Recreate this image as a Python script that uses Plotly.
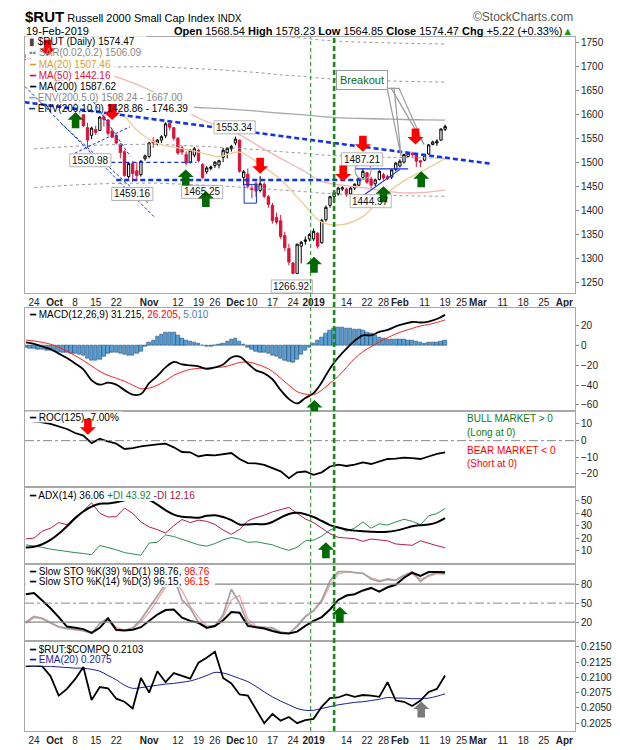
import plotly.graph_objects as go

# trading-day index: 0 = 24-Sep-2018 ... 100 = 19-Feb-2019
day_idx = list(range(-2, 101))

rut_open = [1714, 1722, 1713, 1706, 1707, 1697, 1693, 1697, 1672, 1660,
            1667, 1641, 1630, 1612, 1605, 1572, 1556, 1568, 1566, 1594,
            1588, 1565, 1556, 1537, 1522, 1470, 1497, 1482, 1474, 1507,
            1512, 1544, 1540, 1546, 1555, 1581, 1572, 1550, 1530, 1516,
            1500, 1515, 1525, 1495, 1480, 1487, 1493, 1494, 1510, 1520,
            1528, 1540, 1546, 1468, 1475, 1445, 1455, 1441, 1454, 1428,
            1410, 1385, 1378, 1347, 1320, 1290, 1268, 1325, 1335, 1340,
            1340, 1352, 1332, 1380, 1410, 1428, 1434, 1444, 1444, 1434,
            1446, 1452, 1468, 1478, 1465, 1455, 1464, 1474, 1470, 1469,
            1485, 1492, 1500, 1512, 1518, 1516, 1503, 1504, 1517, 1537,
            1540, 1546, 1568.54]
rut_high = [1725, 1726, 1716, 1711, 1712, 1703, 1700, 1698, 1675, 1675,
            1668, 1645, 1633, 1620, 1610, 1582, 1574, 1576, 1596, 1600,
            1590, 1570, 1558, 1540, 1525, 1500, 1502, 1500, 1504, 1516,
            1542, 1552, 1548, 1556, 1583.27, 1582.5, 1573, 1552, 1535, 1522,
            1527, 1532, 1528, 1498, 1492, 1493, 1502, 1505, 1530, 1531,
            1536, 1553.34, 1547, 1484, 1487, 1452, 1460, 1471, 1458, 1432,
            1415, 1395, 1390, 1355, 1330, 1292, 1330, 1336, 1345, 1352,
            1362, 1354, 1382, 1410, 1430, 1441, 1449, 1450, 1447, 1448,
            1456, 1468, 1487.21, 1480, 1470, 1466, 1483, 1478, 1474, 1485,
            1500, 1506, 1518, 1521, 1522, 1517, 1505, 1517, 1538, 1545,
            1548, 1570, 1578.23]
rut_low = [1712, 1710, 1700, 1700, 1693, 1692, 1690, 1668, 1650, 1657,
           1636, 1622, 1602, 1605, 1573, 1530.98, 1548, 1557, 1565, 1574,
           1555, 1550, 1537, 1508, 1470, 1466, 1459.16, 1462, 1470, 1503,
           1508, 1530, 1535, 1540, 1550, 1566, 1545, 1515, 1515, 1493,
           1497, 1510, 1500, 1465.25, 1476, 1483, 1488, 1487, 1500, 1508,
           1522, 1535, 1478, 1452, 1445, 1425, 1428, 1437, 1425, 1405,
           1372, 1370, 1340, 1315, 1285, 1266.92, 1267, 1289, 1328, 1335,
           1336, 1320, 1330, 1376, 1405, 1424, 1430, 1440, 1428, 1430,
           1442, 1450, 1464, 1455, 1444.97, 1450, 1462, 1462, 1463, 1465,
           1481, 1489, 1497, 1510, 1510, 1490, 1490, 1502, 1516, 1535,
           1534, 1545, 1564.85]
rut_close = [1721, 1714, 1705, 1706, 1695, 1697, 1696, 1672, 1657, 1669,
             1641, 1631, 1614, 1610, 1576, 1546, 1571, 1562, 1594, 1589,
             1560, 1552, 1540, 1520, 1472, 1497, 1476, 1472, 1502, 1513,
             1540, 1540, 1546, 1553, 1580, 1573, 1550, 1519, 1521, 1498,
             1525, 1528, 1503, 1468, 1488, 1490, 1500, 1503, 1525, 1529,
             1533, 1548, 1481, 1480, 1450, 1443, 1440, 1455, 1429, 1412,
             1378, 1375, 1345, 1322, 1292, 1268, 1329, 1333, 1338, 1349,
             1356, 1325, 1379, 1406, 1428, 1437, 1446, 1447, 1432, 1446,
             1454, 1466, 1481, 1458, 1452, 1463, 1481, 1467, 1466, 1484,
             1498, 1502, 1516, 1519, 1516, 1502, 1500, 1515, 1536, 1542,
             1544, 1569.25, 1574.47]

# overlays, sampled every 5 trading days
ma_idx = list(range(0, 101, 5))
ma20 = [1712, 1702, 1686, 1660, 1619, 1567, 1539, 1530, 1521, 1512, 1521,
        1495, 1464, 1418, 1375, 1370, 1387, 1430, 1461, 1484, 1507.46]
ma50 = [1700, 1698, 1694, 1688, 1678, 1662, 1642, 1617, 1592, 1574, 1557,
        1532, 1508, 1485, 1460, 1452, 1447, 1440, 1436, 1437, 1442.16]
ma200 = [1608, 1611, 1614, 1616, 1617.5, 1618, 1618, 1616, 1614, 1612, 1609,
         1606, 1602, 1599, 1595, 1592.5, 1591, 1590, 1589, 1588.3, 1587.62]
env5_up = [1688.4, 1691.6, 1694.7, 1696.8, 1698.4, 1698.9, 1698.9, 1696.8, 1694.7, 1692.6, 1689.5,
           1686.3, 1682.1, 1679.0, 1674.8, 1672.1, 1670.6, 1669.5, 1668.5, 1667.7, 1667.0]
env5_dn = [1527.6, 1530.5, 1533.3, 1535.2, 1536.6, 1537.1, 1537.1, 1535.2, 1533.3, 1531.4, 1528.6,
           1525.7, 1521.9, 1519.1, 1515.3, 1512.9, 1511.5, 1510.5, 1509.6, 1508.9, 1508.24]
env10_up = [1768.8, 1772.1, 1775.4, 1777.6, 1779.3, 1779.8, 1779.8, 1777.6, 1775.4, 1773.2, 1769.9,
            1766.6, 1762.2, 1758.9, 1754.5, 1751.8, 1750.1, 1749.0, 1747.9, 1747.1, 1746.39]
env10_dn = [1447.2, 1449.9, 1452.6, 1454.4, 1455.8, 1456.2, 1456.2, 1454.4, 1452.6, 1450.8, 1448.1,
            1445.4, 1441.8, 1439.1, 1435.5, 1433.3, 1431.9, 1431.0, 1430.1, 1429.5, 1428.86]

# indicators, sampled every 2 trading days
ind_idx = list(range(-2, 101, 2))
macd = [3.4, 1.8, -0.8, -3.5, -8, -12.5, -18, -24, -35, -39.5, -37.5, -39.5, -45,
        -49.5, -49, -38, -30.5, -22, -16.5, -19, -20, -21, -23.5, -22, -19, -12,
        -11, -18, -25, -28, -34, -45, -54, -58.5, -53, -48, -37, -23, -12, -3,
        5, 10.5, 10.5, 14, 16, 19.5, 22, 24, 23.5, 24.5, 27, 31.215]
macd_sig = [5.7, 4.8, 3.4, 1.5, -1.5, -5.5, -10, -15, -20.5, -26, -30, -33, -36,
            -40, -43.5, -43, -40, -35.5, -30, -26.5, -24, -23, -22.5, -22, -21.5, -19.5,
            -17, -16.5, -18.5, -21.5, -26, -33, -40, -46.5, -49, -49.5, -45, -38, -31, -22,
            -13, -6, -1, 4, 8, 12, 15, 17.5, 20, 21.5, 23.5, 26.205]
macd_hist = [-2.3, -2.6, -3.0, -3.6, -4.2, -4.6, -5.0, -5.8, -6.5, -6.8,
             -7.0, -7.5, -8.0, -9.0, -10.0, -12.5, -14.5, -14.5, -13.5, -10.5,
             -7.5, -7.0, -6.5, -8.0, -9.0, -9.5, -9.5, -7.5, -5.5, -1.0,
             3.0, 5.5, 9.0, 11.5, 13.0, 13.5, 13.0, 10.5, 7.5, 5.5,
             4.0, 3.0, 2.0, 0.5, -1.0, -0.8, 0.0, 1.0, 2.5, 4.5,
             6.0, 7.0, 4.5, 1.5, -1.5, -4.0, -6.0, -6.5, -6.5, -7.5,
             -9.5, -11.0, -13.0, -14.5, -16.0, -17.0, -13.5, -9.0, -4.5, -1.5,
             2.0, 5.0, 8.5, 12.0, 15.5, 17.0, 18.0, 18.0, 17.5, 17.0,
             16.5, 16.0, 15.0, 13.5, 12.0, 10.0, 8.0, 7.0, 6.5, 6.0,
             6.0, 6.0, 6.0, 5.5, 5.0, 4.0, 3.0, 2.5, 3.0, 3.0,
             3.5, 4.0, 5.01]
roc125 = [12, 11.5, 11, 10, 8.5, 7, 4.6, 3, -1.5, 1.2, -0.5, -1.8, -5, -4.5, -3.4,
          -2.6, -2.2, -1.8, -4, -6.8, -7, -9.5, -8.6, -8.8, -8, -7.4, -11, -13.5,
          -13.6, -14.5, -16.5, -18.4, -22.5, -19, -18.5, -20.5, -19, -15.5, -14.4,
          -15.2, -14.4, -13, -14, -12.4, -11, -10.8, -10.2, -10.5, -11, -9.5, -8, -7.0]
adx = [12.4, 13, 15, 18.5, 23.5, 29.5, 36, 41.5, 45.5, 47.8, 48, 49, 50.5, 52.5,
       53, 51, 47, 42.5, 39, 37.3, 36.8, 36.5, 38, 38.5, 37, 34.5, 31, 31, 31.3,
       31.2, 33, 36.5, 39.5, 40.4, 39.3, 37, 33.8, 30.5, 28.5, 27, 26, 25.5, 25.1,
       24.8, 25, 26, 27.6, 29.5, 30.4, 31, 32.7, 36.06]
plus_di = [14.5, 13.8, 12.5, 11, 10, 8.8, 8.2, 7.5, 6.5, 14, 12.5, 10.5, 8.2, 7, 6,
           16, 16.6, 22.5, 21.2, 19, 16.5, 14.5, 13.4, 15.5, 18.5, 20.5, 19, 16.5,
           17, 16, 14.5, 12, 10, 12.5, 17.8, 18.3, 21.5, 26.5, 29, 25.5, 28, 33, 28,
           31.5, 30.5, 33, 35.2, 33.5, 30.8, 38, 39.8, 43.92]
minus_di = [19.3, 20, 25.5, 28, 32.5, 30.8, 37, 42, 48.5, 40, 37, 37.3, 44.3, 40,
            33, 29, 26.8, 24, 30, 35, 32.5, 34.5, 33.5, 31, 26.5, 23, 27, 34, 36.5,
            38.5, 41.2, 43, 44.8, 40, 35.5, 32.5, 28, 23.5, 20.5, 20, 19.5, 17.3,
            19.2, 18.5, 17.7, 15.2, 14.6, 14.1, 17.8, 15.5, 13.8, 12.16]
sto39 = [64, 66, 54, 42, 28, 13, 11, 9, 3, 11, 26, 8, 7, 8, 12, 22, 32, 39, 40, 27,
         22, 19, 11, 14, 23, 36, 35, 14, 12, 10, 6, 3, 2, 5, 14, 22, 28, 40, 55, 62,
         64, 70, 74, 68, 75, 79, 90, 98, 93, 99, 99, 98.76]
sto14_k = [20, 29, 26, 19, 12.5, 10, 8.5, 7, 2.5, 18, 26, 7, 7, 11, 24, 42, 60, 80,
           90, 55, 42, 20, 12, 14, 32, 72, 50, 18, 12.5, 12.3, 11, 4.5, 2, 14, 29,
           38, 55, 85, 99.8, 99.8, 98.5, 97, 88, 84, 88, 86, 94, 99.5, 84, 94, 98, 96.15]
sto14_d = [18, 27, 25, 18, 13, 10, 8, 6, 3, 12, 25, 12, 7, 10, 20, 35, 55, 75, 85,
           70, 45, 28, 14, 15, 28, 55, 62, 25, 14, 12, 8, 4, 3, 12, 28, 38, 52, 78,
           96, 99, 98, 97, 90, 86, 87, 86, 92, 96, 88, 92, 96, 96.15]
ratio = [0.2118, 0.2120, 0.2118, 0.2102, 0.2070, 0.2081, 0.2097, 0.2117, 0.2063,
         0.2084, 0.2082, 0.2065, 0.2060, 0.2049, 0.2099, 0.2075, 0.2110, 0.2092,
         0.2107, 0.2102, 0.2098, 0.2124, 0.2132, 0.2142, 0.2099, 0.2090, 0.2072,
         0.2070, 0.2047, 0.2025, 0.2040, 0.2029, 0.2035, 0.2025, 0.2030, 0.2032,
         0.2052, 0.2066, 0.2067, 0.2072, 0.2068, 0.2071, 0.2070, 0.2068, 0.2092,
         0.2062, 0.2060, 0.2053, 0.2062, 0.2076, 0.2081, 0.2103]
ratio_ema = [0.2118, 0.2118, 0.2118, 0.2118, 0.2117, 0.2116, 0.2115, 0.2115, 0.2113,
             0.2110, 0.2103, 0.2096, 0.2087, 0.2082, 0.2083, 0.2085, 0.2087, 0.2089,
             0.2090, 0.2092, 0.2094, 0.2098, 0.2103, 0.2108, 0.2107, 0.2103, 0.2098,
             0.2093, 0.2085, 0.2076, 0.2068, 0.2061, 0.2055, 0.2049, 0.2046, 0.2046,
             0.2049, 0.2052, 0.2055, 0.2057, 0.2059, 0.2060, 0.2062, 0.2064, 0.2067,
             0.2066, 0.2066, 0.2065, 0.2065, 0.2066, 0.2069, 0.2073]

# date axis (future dates continue the trading-day count)
tick_pos = [0, 5, 10, 15, 20, 28, 35, 40, 44, 49, 53, 58, 63, 68, 76, 81, 85, 89,
            95, 100, 104, 108, 114, 119, 124, 129]
tick_txt = ["24", "<b>Oct</b>", "8", "15", "22", "<b>Nov</b>", "12", "19", "26",
            "<b>Dec</b>", "10", "17", "24", "<b>2019</b>", "14", "22", "28", "<b>Feb</b>",
            "11", "19", "25", "<b>Mar</b>", "11", "18", "25", "<b>Apr</b>"]

# chart notes: signal arrows (day, value, direction, panel)
arrow_day = [3.3, 10.1, 19.0, 36.9, 41.8, 55.0, 68.1, 75.2, 80.0, 85.0, 92.8, 94.2,
             68.2, 13.1, 71.0, 74.4, 94.2]
arrow_val = [1722, 1604, 1588, 1485, 1440, 1476, 1303, 1460, 1522, 1450, 1537, 1481,
             -55, 3.6, 16.6, 44.2, 0.20603]
arrow_dir = ["dn", "up", "dn", "up", "up", "dn", "up", "dn", "dn", "up", "dn", "up",
             "up", "dn", "up", "up", "gray"]
arrow_panel = [1] * 12 + [2, 3, 4, 5, 6]

# price call-outs
label_txt = ["1530.98", "1459.16", "1465.25", "1553.34", "1266.92", "1487.21", "1444.97"]
label_day = [13.7, 23.9, 40.9, 48.8, 62.7, 79.8, 81.9]
label_val = [1504, 1433.7, 1438, 1572.7, 1241, 1506, 1418.7]

FONT = "Arial, Liberation Sans, sans-serif"
W, H = 620, 750
L, R, T, B = 17, 53, 29, 18
PW, PH = W - L - R, H - T - B


def xp(px):
    return (px - L) / PW


def yp(py):
    return (H - B - py) / PH


def text_w(s, size=10):
    w = 0
    for ch in s:
        if ch.isdigit():
            w += 0.556
        elif ch.isupper():
            w += 0.68
        elif ch.islower():
            w += 0.52
        elif ch in " .,:":
            w += 0.28
        elif ch in "()-":
            w += 0.333
        elif ch == "%":
            w += 0.89
        else:
            w += 0.58
    return w * size


fig = go.Figure()

# ---- price panel
def overlay(y, color, width, dash="solid"):
    fig.add_trace(go.Scatter(x=ma_idx, y=y, mode="lines", hoverinfo="skip",
                             line=dict(color=color, width=width, dash=dash, shape="spline")))

overlay(env10_up, "#9a9a9a", 1, "dot")
overlay(env10_dn, "#9a9a9a", 1, "dot")
overlay(env5_up, "#9a9a9a", 1, "dot")
overlay(env5_dn, "#9a9a9a", 1, "dot")
overlay(ma200, "#a8a8a8", 1.3)
overlay(ma50, "#f3b4b4", 1.3)
overlay(ma20, "#efcb96", 1.3)

fig.add_trace(go.Candlestick(
    x=day_idx, open=rut_open, high=rut_high, low=rut_low, close=rut_close,
    increasing=dict(line=dict(color="black", width=1), fillcolor="white"),
    decreasing=dict(line=dict(color="#d9143a", width=1), fillcolor="#d9143a"),
    whiskerwidth=0, hoverinfo="skip"))

# ---- MACD
fig.add_trace(go.Bar(x=day_idx, y=macd_hist, xaxis="x2", yaxis="y2", width=0.85,
                     marker=dict(color="#5a9fd2", line=dict(color="#1f4c78", width=0.6)),
                     hoverinfo="skip"))
fig.add_trace(go.Scatter(x=ind_idx, y=macd_sig, xaxis="x2", yaxis="y2", mode="lines",
                         line=dict(color="#ff2020", width=1, shape="spline"), hoverinfo="skip"))
fig.add_trace(go.Scatter(x=ind_idx, y=macd, xaxis="x2", yaxis="y2", mode="lines",
                         line=dict(color="black", width=1.8, shape="spline"), hoverinfo="skip"))

# ---- ROC
fig.add_trace(go.Scatter(x=ind_idx, y=roc125, xaxis="x3", yaxis="y3", mode="lines",
                         line=dict(color="black", width=1.8), hoverinfo="skip"))

# ---- ADX
fig.add_trace(go.Scatter(x=ind_idx, y=plus_di, xaxis="x4", yaxis="y4", mode="lines",
                         line=dict(color="#2e8b57", width=1), hoverinfo="skip"))
fig.add_trace(go.Scatter(x=ind_idx, y=minus_di, xaxis="x4", yaxis="y4", mode="lines",
                         line=dict(color="#b01e4c", width=1), hoverinfo="skip"))
fig.add_trace(go.Scatter(x=ind_idx, y=adx, xaxis="x4", yaxis="y4", mode="lines",
                         line=dict(color="black", width=2, shape="spline"), hoverinfo="skip"))

# ---- Slow STO
fig.add_trace(go.Scatter(x=ind_idx, y=sto14_d, xaxis="x5", yaxis="y5", mode="lines",
                         line=dict(color="#f4a6a6", width=1.3), hoverinfo="skip"))
fig.add_trace(go.Scatter(x=ind_idx, y=sto14_k, xaxis="x5", yaxis="y5", mode="lines",
                         line=dict(color="#a4a4a4", width=1.8), hoverinfo="skip"))
fig.add_trace(go.Scatter(x=ind_idx, y=sto39, xaxis="x5", yaxis="y5", mode="lines",
                         line=dict(color="black", width=2), hoverinfo="skip"))

# ---- RUT:COMPQ
fig.add_trace(go.Scatter(x=ind_idx, y=ratio_ema, xaxis="x6", yaxis="y6", mode="lines",
                         line=dict(color="#1c1c9c", width=1, shape="spline"), hoverinfo="skip"))
fig.add_trace(go.Scatter(x=ind_idx, y=ratio, xaxis="x6", yaxis="y6", mode="lines",
                         line=dict(color="black", width=1.8), hoverinfo="skip"))

shapes = []
# reference lines
for yref, val, dash, w in [("y3", 0, "dashdot", 1), ("y5", 80, "solid", 1.2),
                           ("y5", 20, "solid", 1.2), ("y5", 50, "dashdot", 1)]:
    shapes.append(dict(type="line", xref="paper", yref=yref, x0=0, x1=1, y0=val, y1=val,
                       line=dict(color="#888", width=w, dash=dash), layer="above"))

annotations = []

# legends: (y px, plain text, html text)
legends = [
    (33.9, "$RUT (Daily) 1574.47", "<span style='color:#444'>▮</span> $RUT (Daily) 1574.47"),
    (45.2, "SAR(0.02,0.2) 1506.09", "<span style='color:#888'>▪▪ SAR(0.02,0.2) 1506.09</span>"),
    (56.5, "MA(20) 1507.46", "<span style='color:#dba128'>━ MA(20) 1507.46</span>"),
    (67.8, "MA(50) 1442.16", "<span style='color:#dc143c'>━ MA(50) 1442.16</span>"),
    (79.1, "MA(200) 1587.62", "━ MA(200) 1587.62"),
    (90.4, "ENV(200,5.0) 1508.24 - 1667.00", "<span style='color:#888'>┅ ENV(200,5.0) 1508.24 - 1667.00</span>"),
    (101.7, "ENV(200,10.0) 1428.86 - 1746.39", "┅ ENV(200,10.0) 1428.86 - 1746.39"),
    (310, "MACD(12,26,9) 31.215, 26.205, 5.010",
     "━ MACD(12,26,9) 31.215, <span style='color:#ff0000'>26.205</span>, "
     "<span style='color:#4682b4'>5.010</span>"),
    (414, "ROC(125) -7.00%", "━ ROC(125) -7.00%"),
    (493.3, "ADX(14) 36.06 +DI 43.92 -DI 12.16",
     "━ ADX(14) 36.06 <span style='color:#2e7d46'>+DI 43.92</span> "
     "<span style='color:#a3163f'>-DI 12.16</span>"),
    (570.3, "Slow STO %K(39) %D(1) 98.76, 98.76",
     "━ Slow STO %K(39) %D(1) 98.76, <span style='color:#ff0000'>98.76</span>"),
    (580.6, "Slow STO %K(14) %D(3) 96.15, 96.15",
     "━ Slow STO %K(14) %D(3) 96.15, <span style='color:#ff0000'>96.15</span>"),
    (649, "$RUT:$COMPQ 0.2103", "━ $RUT:$COMPQ 0.2103"),
    (660, "EMA(20) 0.2075", "<span style='color:#1c1c9c'>━ EMA(20) 0.2075</span>"),
]
for ypx, plain, html in legends:
    wpx = text_w(plain) + 16
    shapes.append(dict(type="rect", xref="paper", yref="paper", x0=xp(L + 0.5), x1=xp(L + 3 + wpx),
                       y0=yp(ypx + 5.6), y1=yp(ypx - 5.6), fillcolor="white",
                       line=dict(width=0), layer="above"))
    annotations.append(dict(x=xp(19), y=yp(ypx), xref="paper", yref="paper", text=html,
                            showarrow=False, xanchor="left", yanchor="middle",
                            font=dict(size=10, color="black", family=FONT)))

# hand-drawn trend lines on the price panel
BLUE = "#1433e6"
lines = [
    (-2.3, 1625, 111, 1497, 2.6, "5px,3px"),
    (20, 1463, 80, 1463, 2.6, "5px,3px"),
    (18.8, 1499.5, 39.5, 1499.5, 1.2, "4px,3px"),
    (-3.9, 1672.4, 29.4, 1384.4, 1, "3px,2px"),
    (6.6, 1580.4, 27.7, 1415.8, 1, "3px,2px"),
    (14.5, 1625.3, 23.4, 1512.1, 1, "3px,2px"),
    (9.9, 1518.7, 23.3, 1573.7, 1, "3px,2px"),
    (78.3, 1486, 91, 1486, 1.2, "solid"),
    (80, 1430, 89, 1485, 1.2, "solid"),
]
for x0, y0, x1, y1, w, dash in lines:
    shapes.append(dict(type="line", xref="x", yref="y", x0=x0, y0=y0, x1=x1, y1=y1,
                       line=dict(color=BLUE, width=w, dash=dash), layer="above"))
shapes.append(dict(type="rect", xref="x", yref="y", x0=51.1, x1=54.1, y0=1414.6, y1=1453.7,
                   line=dict(color=BLUE, width=1), layer="above"))
shapes.append(dict(type="circle", xref="x", yref="y", x0=78.1, x1=82.0, y0=1464.6, y1=1501.6,
                   line=dict(color="#999", width=1.2), layer="above"))
# breakout call-out pointers
for pth in ["M85.9,1653.9 L89.3,1511.9 L87.6,1653.9 Z",
            "M86.9,1653.9 L94.9,1536.6 L88.8,1653.9 Z"]:
    shapes.append(dict(type="path", xref="x", yref="y", path=pth,
                       line=dict(color="#9a9a9a", width=1.2), fillcolor="rgba(255,255,255,0)",
                       layer="above"))

# price label boxes (drawn as shapes so the arrows can sit over them)
for t, d, v in zip(label_txt, label_day, label_val):
    hw = text_w(t) / 2 + 2.5
    shapes.append(dict(type="rect", xref="x", yref="y", xsizemode="pixel", ysizemode="pixel",
                       xanchor=d, yanchor=v, x0=-hw, x1=hw, y0=-6.5, y1=6.5,
                       fillcolor="white", line=dict(color="#b5b5b5", width=1), layer="above"))
    annotations.append(dict(x=d, y=v, xref="x", yref="y", text=t, showarrow=False,
                            font=dict(size=10, color="#111", family=FONT)))

# vertical markers across all panels
shapes.append(dict(type="line", xref="x", yref="paper", x0=67.3, x1=67.3, y0=0, y1=1,
                   line=dict(color="#1a8a1a", width=1, dash="4px,3px"), layer="above"))
shapes.append(dict(type="line", xref="x", yref="paper", x0=73.0, x1=73.0, y0=0, y1=1,
                   line=dict(color="#1a8a1a", width=2.6, dash="5px,3px"), layer="above"))

# block arrows
UP = "M0,0 L8,-7.5 L3.8,-7.5 L3.8,-16 L-3.8,-16 L-3.8,-7.5 L-8,-7.5 Z"
DN = "M0,0 L8,7.5 L3.8,7.5 L3.8,16 L-3.8,16 L-3.8,7.5 L-8,7.5 Z"
arrow_col = {"up": "#006a00", "dn": "#ff0000", "gray": "#7a7a7a"}
for d, v, kind, p in zip(arrow_day, arrow_val, arrow_dir, arrow_panel):
    sfx = "" if p == 1 else str(p)
    shapes.append(dict(type="path", xref="x" + sfx, yref="y" + sfx, xsizemode="pixel",
                       ysizemode="pixel", xanchor=d, yanchor=v,
                       path=DN if kind == "dn" else UP, fillcolor=arrow_col[kind],
                       line=dict(width=0), layer="above"))

annotations.append(dict(x=79.8, y=1672, xref="x", yref="y", text="Breakout", showarrow=False,
                        font=dict(size=11, color="#0b6b0b", family=FONT), bgcolor="white",
                        bordercolor="#9a9a9a", borderwidth=1, borderpad=3))

# ROC side notes
for ypx, txt, col in [(415.7, "BULL MARKET > 0", "#0f7a0f"), (430, "(Long at 0)", "#0f7a0f"),
                      (448.3, "BEAR MARKET < 0", "#ff0000"), (460.7, "(Short at 0)", "#ff0000")]:
    annotations.append(dict(x=xp(457), y=yp(ypx), xref="paper", yref="paper", text=txt,
                            showarrow=False, xanchor="left", yanchor="middle",
                            font=dict(size=10, color=col, family=FONT)))

# header
annotations += [
    dict(x=xp(15), y=yp(8.5), xref="paper", yref="paper", showarrow=False, xanchor="left",
         yanchor="middle", font=dict(size=11, color="black", family=FONT),
         text="<b><span style='font-size:15px'>$RUT</span></b> Russell 2000 Small Cap Index "
              "<span style='font-size:10px'>INDX</span>"),
    dict(x=xp(567), y=yp(9), xref="paper", yref="paper", showarrow=False, xanchor="right",
         yanchor="middle", font=dict(size=12, color="#555", family=FONT), text="©StockCharts.com"),
    dict(x=xp(16), y=yp(22.7), xref="paper", yref="paper", showarrow=False, xanchor="left",
         yanchor="middle", font=dict(size=11, color="black", family=FONT), text="19-Feb-2019"),
    dict(x=xp(567), y=yp(22.7), xref="paper", yref="paper", showarrow=False, xanchor="right",
         yanchor="middle", font=dict(size=11, color="black", family=FONT),
         text="<b>Open</b> 1568.54 <b>High</b> 1578.23 <b>Low</b> 1564.85 <b>Close</b> 1574.47 "
              "<b>Chg</b> +5.22 (+0.33%)<span style='color:#1a9a1a'>▲</span>"),
]

AX = dict(showgrid=False, zeroline=False, showline=True, linecolor="#a8a8a8", linewidth=1,
          mirror=True)


def xaxis(show, anchor, match=True):
    d = dict(AX, range=[-2.2, 131.6], tickvals=tick_pos, ticktext=tick_txt, tickangle=0,
             showticklabels=show, ticks="", anchor=anchor,
             tickfont=dict(size=10, color="#222", family=FONT))
    if match:
        d["matches"] = "x"
    return d


def yaxis(dom, rng, vals, anchor, fmt=None):
    d = dict(AX, domain=dom, range=rng, tickvals=vals, side="right", anchor=anchor,
             ticks="outside", ticklen=3, tickcolor="#888",
             tickfont=dict(size=10, color="#222", family=FONT))
    if fmt:
        d["tickformat"] = fmt
    return d


fig.update_layout(
    width=W, height=H, margin=dict(l=L, r=R, t=T, b=B),
    paper_bgcolor="white", plot_bgcolor="white", showlegend=False,
    font=dict(family=FONT, size=10, color="black"), bargap=0, boxgap=0.2,
    xaxis=dict(xaxis(True, "y", match=False), rangeslider=dict(visible=False)),
    xaxis2=xaxis(False, "y2"), xaxis3=xaxis(False, "y3"), xaxis4=xaxis(False, "y4"),
    xaxis5=xaxis(False, "y5"), xaxis6=xaxis(True, "y6"),
    yaxis=yaxis([yp(288.3), 1], [1227.4, 1760.9], list(range(1250, 1751, 50)), "x"),
    yaxis2=yaxis([yp(408), yp(304)], [-66.3, 37.7], [-60, -40, -20, 0, 20], "x2"),
    yaxis3=yaxis([yp(485), yp(408)], [-27.9, 17.7], [-20, -10, 0, 10], "x3"),
    yaxis4=yaxis([yp(563.3), yp(485)], [-1.4, 61.2], [10, 20, 30, 40, 50], "x4"),
    yaxis5=yaxis([yp(641), yp(563.3)], [-10, 111], [20, 50, 80], "x5"),
    yaxis6=yaxis([0, yp(641)], [0.20121, 0.21592],
                 [0.2025, 0.2050, 0.2075, 0.2100, 0.2125, 0.2150], "x6", ".4f"),
    shapes=shapes, annotations=annotations,
)

fig.write_html("out.html")
